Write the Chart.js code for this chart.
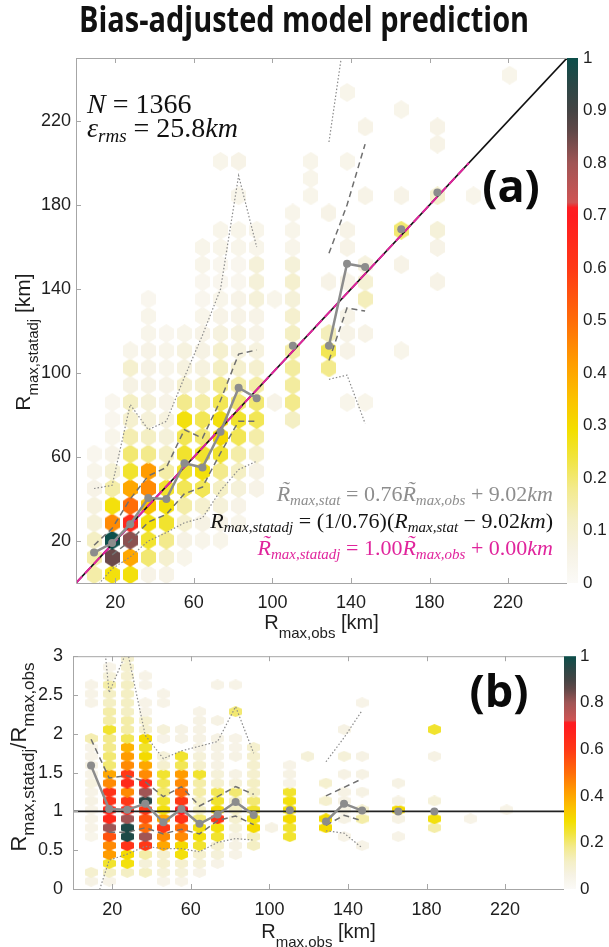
<!DOCTYPE html>
<html>
<head>
<meta charset="utf-8">
<script src="https://cdn.jsdelivr.net/npm/chart.js@4.4.0/dist/chart.umd.min.js"></script>
<style>
  html, body { margin: 0; padding: 0; background: #fff; }
  #wrap { position: relative; width: 609px; height: 947px; overflow: hidden; }
  #top { position: absolute; left: 0; top: 0; }
  #bot { position: absolute; left: 0; top: 630px; }
  #title { position: absolute; left: 0; top: 2px; width: 609px; text-align: center;
           font: 700 35px/34px "Open Sans", sans-serif; color: #111; }
  #ttl { display: inline-block; transform-origin: center; white-space: nowrap; }
</style>
</head>
<body>
<div id="wrap">
  <canvas id="top" width="609" height="650"></canvas>
  <canvas id="bot" width="609" height="317"></canvas>
  <div id="title"><span id="ttl">Bias-adjusted model prediction</span></div>
</div>
<script>
// Ticks des axes
const xTicks = [20, 60, 100, 140, 180, 220];
const yTicksTop = [20, 60, 100, 140, 180, 220];
const yTicksBot = [0, 0.5, 1, 1.5, 2, 2.5, 3];
const cbTicksTop = [0, 0.1, 0.2, 0.3, 0.4, 0.5, 0.6, 0.7, 0.8, 0.9, 1];
const cbTicksBot = [0, 0.2, 0.4, 0.6, 0.8, 1];

// Centres des classes (R_max,obs)
const binX = [9.2, 18.4, 27.6, 36.8, 46, 55.2, 64.4, 73.6, 82.8, 92,
              101.2, 110.4, 119.6, 128.8, 138, 147.2, 156.4, 165.6, 174.8, 184];

// Panneau (a) : médiane, quartiles, 5e/95e percentiles [km]
const medTop = [14.5, 19, 28, 40.5, 40, 57, 55, 72, 93, 88, null, 113, null, 113, 152, 150.5, null, 168.5, null, 186];
const q75Top = [18, 26, 40, 51, 55, 73, 69, 87, 109, 111, null, 127, null, 157, 180, 209, null, null, null, null];
const q25Top = [null, 13.4, 20, 29, 32.7, 42.5, 45.7, 62, 77, 77, null, 95, null, 106, 131, 129.5, null, null, null, null];
const p95Top = [45, 46.5, 85, 73, 77, 98, 118, 140, 194, 160, null, 167, null, 210, 269, 339, null, null, null, null];
const p05Top = [-3, 6.8, 12.4, 20, 24, 28.7, 31, 44, 54, 58, null, 81, null, 97, 99, 76, null, null, null, null];

// Panneau (b) : rapport R_max,statadj / R_max,obs
const medBot = [1.59, 1.03, 1.02, 1.1, 0.86, 1.03, 0.84, 0.96, 1.12, 0.955, null, 1.015, null, 0.87, 1.1, 1.01, null, 1.0, null, 1.0];
const q75Bot = [1.93, 1.43, 1.46, 1.38, 1.19, 1.32, 1.07, 1.19, 1.32, 1.22, null, 1.15, null, 1.2, 1.31, 1.42, null, null, null, null];
const q25Bot = [null, 0.73, 0.73, 0.79, 0.71, 0.77, 0.71, 0.88, 0.94, 0.83, null, 0.86, null, 0.82, 0.95, 0.88, null, null, null, null];
const p95Bot = [4.9, 2.53, 3.08, 1.98, 1.68, 1.78, 1.84, 1.9, 2.35, 1.75, null, 1.51, null, 1.64, 1.95, 2.3, null, null, null, null];
const p05Bot = [-0.35, 0.37, 0.45, 0.55, 0.52, 0.52, 0.48, 0.6, 0.65, 0.63, null, 0.73, null, 0.75, 0.72, 0.53, null, null, null, null];

// Droites de référence
const diagX = [0, 250];
const diagY = [0, 250];
const fitX = [0, 200];
const fitY = [0, 200];
const refX = [0, 250];
const refY = [1, 1];

// Hexbin : colonnes, lignes et densités normalisées
const hexCols = [9.2, 18.4, 27.6, 36.8, 46, 55.2, 64.4, 73.6, 82.8, 92,
                 101.2, 110.4, 119.6, 128.8, 138, 147.2, 165.6, 184, 202.4, 220.8];
const hexRowsTop = [4, 12.2, 20.4, 28.6, 36.8, 45, 53.2, 61.4, 69.6, 77.8, 86, 94.2, 102.4, 110.6, 118.8,
                    127, 135.2, 143.4, 151.6, 159.8, 168, 176.2, 184.4, 192.6, 200.8, 209, 217.2, 225.4, 233.6, 241.8];
const hexValsTop = [
  [.15, .15, .12, .08, .07, .05, .04, .03],
  [.28, .85, 1, .45, .28, .15, .09, .05, .04, .03, .03],
  [.28, .4, .82, .65, .5, .4, .25, .2, .14, .1, .12, .06, .1, .04],
  [.05, .2, .25, .28, .35, .45, .42, .18, .12, .08, .08, .06, .06, .05, .04, .04, .03],
  [.05, .1, .18, .25, .28, .25, .15, .12, .08, .07, .05, .05, .04, .04, .03],
  [0, .04, .06, .1, .15, .22, .25, .25, .22, .28, .18, .1, .07, .07, .04],
  [0, 0, .04, .06, .1, .22, .28, .25, .2, .22, .15, .1, .07, .06, .05, .04, .03, .03, .04, .04],
  [0, 0, .04, .05, .08, .12, .18, .25, .3, .28, .22, .18, .12, .1, .07, .05, .04, .03, .03, .04, .04, 0, 0, 0, .04],
  [0, 0, 0, .04, .05, .08, .12, .15, .22, .25, .2, .15, .1, .07, .07, .05, .05, .03, .03, .04, .04, 0, .04, 0, .05],
  [0, 0, 0, 0, 0, .05, .06, .1, .15, .22, .2, .15, .1, .07, .05, .05, .08, .08, .08, .04, .04],
  [0, 0, 0, 0, 0, 0, 0, 0, 0, 0, .05, 0, 0, 0, 0, 0, .04],
  [0, 0, 0, 0, 0, 0, 0, 0, 0, .12, .18, .16, .16, .15, .12, .1, .08, .1, .08, .04, .04, .04],
  [0, 0, 0, 0, 0, 0, 0, 0, 0, 0, 0, 0, 0, 0, 0, 0, 0, 0, 0, 0, 0, 0, .04, .04, .04],
  [0, 0, 0, 0, 0, 0, 0, 0, 0, 0, 0, 0, .18, .22, .13, 0, 0, .05, 0, 0, 0, .05],
  [0, 0, 0, 0, 0, 0, 0, 0, 0, 0, .04, 0, 0, .05, .05, .05, 0, .05, 0, .05, .05, 0, 0, 0, .04, 0, 0, 0, .04],
  [0, 0, 0, 0, 0, 0, 0, 0, 0, 0, .04, 0, 0, 0, .05, 0, .13, .09, .07, 0, 0, 0, .05, 0, 0, 0, .05],
  [0, 0, 0, 0, 0, 0, 0, 0, 0, 0, 0, 0, 0, .04, 0, 0, 0, 0, .05, 0, .2, 0, .05, 0, 0, 0, 0, .04],
  [0, 0, 0, 0, 0, 0, 0, 0, 0, 0, 0, 0, 0, 0, 0, 0, 0, .05, 0, .05, .08, 0, .1, 0, 0, .05, .05],
  [0, 0, 0, 0, 0, 0, 0, 0, 0, 0, 0, 0, 0, 0, 0, 0, 0, 0, 0, 0, 0, 0, .04],
  [0, 0, 0, 0, 0, 0, 0, 0, 0, 0, 0, 0, 0, 0, 0, 0, 0, 0, 0, 0, 0, 0, 0, 0, 0, 0, 0, 0, 0, .04]
];
const hexRowsBot = [0.1, 0.215, 0.33, 0.445, 0.56, 0.675, 0.79, 0.905, 1.02, 1.135, 1.25, 1.365, 1.48,
                    1.595, 1.71, 1.825, 1.94, 2.055, 2.17, 2.285, 2.4, 2.515, 2.63, 2.745, 2.86, 2.975];
const hexValsBot = [
  [.06, .1, 0, 0, 0, .04, .05, .05, .05, .06, .05, .07, .05, .06, .05, .05, .14, 0, 0, 0, .05, .05, .05],
  [.05, .12, .25, .42, .45, .55, .8, .65, .65, .62, .62, .45, .4, .2, .2, .18, .18, .25, .15, .15, .12, .12, .15, .08, .05],
  [0, .12, .28, .3, .62, .97, .97, .8, .65, .6, .45, .65, .6, .45, .42, .38, .22, .15, .15, .12, .12, .12, .12, .1, .1, .1],
  [0, .12, .08, .15, .6, .8, .5, .55, .6, .95, .8, .65, .45, .4, .3, .25, .3, .1, .1, .05, .05, 0, .05, .05],
  [.05, .08, .1, .1, .4, .45, .6, .4, .28, .25, .2, .22, .25, .1, .08, 0, .05, .08, 0, 0, .05, .05],
  [.05, .08, .1, .28, .3, .45, .5, .62, .7, .6, .5, .45, .42, .22, .25, 0, .06, .06],
  [0, .05, .08, .1, .25, .28, .28, .2, .12, .12, .15, .15, .25, .1, .08, .06, .06, .06, .06, .05],
  [0, 0, .05, .08, .1, .25, .28, .62, .3, .25, .22, .1, .08, .06, .06, .06, .06, 0, .06, 0, 0, 0, .05],
  [0, 0, 0, .05, .06, .06, .08, .1, .12, .1, .2, .08, .06, 0, .06, .05, .05, 0, 0, .2, 0, 0, .05],
  [0, 0, 0, 0, .12, .12, .3, .28, .25, .2, .12, .12, .1, .1, .1, .1],
  [0, 0, 0, 0, 0, 0, .06],
  [0, 0, 0, 0, 0, .25, .25, .3, .28, .28, .25, .05, .06, .05],
  [0, 0, 0, 0, 0, 0, 0, 0, 0, 0, 0, 0, 0, 0, .08],
  [0, 0, 0, 0, 0, 0, .3, .3, 0, .1, 0, .1],
  [0, 0, 0, 0, 0, .05, 0, .06, .06, .06, .06, 0, .06, 0, .08, 0, 0, .06],
  [0, 0, 0, 0, .05, 0, 0, .15, .1, 0, .06, 0, .06, 0, .06, 0, 0, 0, 0, 0, .05],
  [0, 0, 0, 0, 0, .05, 0, .06, .3, .06, 0, .06],
  [0, 0, 0, 0, 0, 0, .15, .28, 0, .08, 0, 0, 0, 0, .06, 0, 0, .25],
  [0, 0, 0, 0, 0, 0, 0, .05],
  [0, 0, 0, 0, 0, 0, 0, 0, .05]
];

// Palette de la barre de couleur
const cmapStops = [
  [0.00, '#fbfaf7'], [0.06, '#f6f2e4'], [0.12, '#f4efc4'], [0.18, '#f3ea8c'],
  [0.24, '#f1e43a'], [0.29, '#f3df00'], [0.35, '#fbc200'], [0.42, '#ff9c00'],
  [0.50, '#ff6c08'], [0.60, '#ff3816'], [0.70, '#ff1b20'], [0.715, '#fc1e22'],
  [0.725, '#cf5454'], [0.80, '#a05555'], [0.86, '#604848'], [0.90, '#444444'],
  [0.95, '#2a4746'], [1.00, '#0c4e4a']
];

const SERIF = '"Liberation Serif", "DejaVu Serif", serif';
const SANS = '"Liberation Sans", Arial, sans-serif';
const GRAY_MED = '#8c8c8c';

function hexToRgb(h) {
  return [parseInt(h.slice(1, 3), 16), parseInt(h.slice(3, 5), 16), parseInt(h.slice(5, 7), 16)];
}

function cmapColor(v) {
  for (let i = 1; i < cmapStops.length; i++) {
    const [p1, c1] = cmapStops[i];
    if (v <= p1) {
      const [p0, c0] = cmapStops[i - 1];
      const t = (v - p0) / (p1 - p0);
      const a = hexToRgb(c0), b = hexToRgb(c1);
      return 'rgb(' + a.map((x, k) => Math.round(x + (b[k] - x) * t)).join(',') + ')';
    }
  }
  return cmapStops[cmapStops.length - 1][1];
}

// Images hexagonales (pointe en haut) mises en cache
const hexCache = {};
function hexImage(v, w, h) {
  const col = cmapColor(v);
  const key = col + '|' + w + 'x' + h;
  if (hexCache[key]) return hexCache[key];
  const c = document.createElement('canvas');
  c.width = w; c.height = h;
  const g = c.getContext('2d');
  g.fillStyle = col;
  g.beginPath();
  g.moveTo(w / 2, 0);
  g.lineTo(w, h * 0.25);
  g.lineTo(w, h * 0.75);
  g.lineTo(w / 2, h);
  g.lineTo(0, h * 0.75);
  g.lineTo(0, h * 0.25);
  g.closePath();
  g.fill();
  hexCache[key] = c;
  return c;
}

function hexPoints(rows, vals) {
  const pts = [];
  hexCols.forEach((x, c) => {
    vals[c].forEach((v, j) => { if (v > 0) pts.push({ x: x, y: rows[j], v: v }); });
  });
  return pts;
}

function xy(xs, ys) {
  return xs.map((x, i) => ({ x: x, y: ys[i] }));
}

// Texte riche : indices, tilde
function tok(t, f, opt) { return Object.assign({ t: t, f: f }, opt || {}); }
const mi = s => 'italic ' + s + 'px ' + SERIF;
const mu = s => s + 'px ' + SERIF;
const sa = s => s + 'px ' + SANS;

function drawRich(ctx, parts, x, y, align, color) {
  let w = 0;
  parts.forEach(p => { ctx.font = p.f; w += ctx.measureText(p.t).width; });
  let cx = align === 'right' ? x - w : align === 'center' ? x - w / 2 : x;
  ctx.fillStyle = color;
  ctx.textAlign = 'left';
  ctx.textBaseline = 'alphabetic';
  parts.forEach(p => {
    ctx.font = p.f;
    const pw = ctx.measureText(p.t).width;
    ctx.fillText(p.t, cx, y + (p.dy || 0));
    if (p.tilde) {
      ctx.textAlign = 'center';
      ctx.fillText('\u02DC', cx + pw * 0.62, y - p.tilde);
      ctx.textAlign = 'left';
    }
    cx += pw;
  });
}

function drawRichRot(ctx, parts, x, y, color) {
  ctx.save();
  ctx.translate(x, y);
  ctx.rotate(-Math.PI / 2);
  drawRich(ctx, parts, 0, 0, 'center', color);
  ctx.restore();
}

// Cadre, graduations, barre de couleur et annotations
function panelPlugin(name, cbWidth, drawTexts) {
  return {
    id: 'panel' + name,
    beforeDatasetsDraw(chart) {
      const ctx = chart.ctx, cb = chart.scales.cb;
      const y0 = cb.getPixelForValue(0), y1 = cb.getPixelForValue(1);
      const g = ctx.createLinearGradient(0, y0, 0, y1);
      cmapStops.forEach(s => g.addColorStop(s[0], s[1]));
      ctx.save();
      ctx.fillStyle = g;
      ctx.fillRect(cb.left, y1, cbWidth, y0 - y1);
      ctx.restore();
    },
    afterDraw(chart) {
      const ctx = chart.ctx, a = chart.chartArea;
      const xs = chart.scales.x, ys = chart.scales.y;
      ctx.save();
      ctx.strokeStyle = '#a6a6a6';
      ctx.lineWidth = 1;
      ctx.beginPath();
      ctx.moveTo(a.left + 0.5, a.top + 0.5);
      ctx.lineTo(a.left + 0.5, a.bottom + 0.5);
      ctx.lineTo(a.right, a.bottom + 0.5);
      ctx.moveTo(a.left, a.top + 0.5);
      ctx.lineTo(a.right, a.top + 0.5);
      xs.ticks.forEach(t => {
        const px = Math.round(xs.getPixelForValue(t.value)) + 0.5;
        ctx.moveTo(px, a.bottom); ctx.lineTo(px, a.bottom - 5);
        ctx.moveTo(px, a.top); ctx.lineTo(px, a.top + 5);
      });
      ys.ticks.forEach(t => {
        const py = Math.round(ys.getPixelForValue(t.value)) + 0.5;
        ctx.moveTo(a.left, py); ctx.lineTo(a.left + 5, py);
      });
      ctx.stroke();
      drawTexts(ctx, chart);
      ctx.restore();
    }
  };
}

function lineSet(xs, ys, color, width, dash, order) {
  return {
    data: xy(xs, ys), showLine: true, borderColor: color, borderWidth: width,
    borderDash: dash, pointRadius: 0, spanGaps: false, order: order, fill: false
  };
}

function hexSet(rows, vals, w, h) {
  return {
    data: hexPoints(rows, vals),
    pointStyle: c => hexImage(c.raw.v, w, h),
    pointRadius: 5, pointHoverRadius: 5, order: 10
  };
}

function tickFont(size) { return { family: SANS, size: size }; }

function makeScales(yTicks, yMax, cbTicks, yWidth, cbW, yPad, xPad, tickSize) {
  const setTicks = arr => s => { s.ticks = arr.map(v => ({ value: v })); };
  return {
    x: {
      type: 'linear', min: 0, max: 250,
      afterBuildTicks: setTicks(xTicks), afterFit: s => { s.height = 40; },
      grid: { display: false, drawTicks: false }, border: { display: false },
      ticks: { font: tickFont(tickSize), color: '#1e1e1e', padding: xPad, maxRotation: 0,
               autoSkip: false, callback: v => String(v) }
    },
    y: {
      type: 'linear', min: 0, max: yMax,
      afterBuildTicks: setTicks(yTicks), afterFit: s => { s.width = yWidth; },
      grid: { display: false, drawTicks: false }, border: { display: false },
      ticks: { font: tickFont(tickSize), color: '#1e1e1e', padding: yPad, autoSkip: false,
               callback: v => String(v) }
    },
    cb: {
      type: 'linear', position: 'right', min: 0, max: 1,
      afterBuildTicks: setTicks(cbTicks), afterFit: s => { s.width = cbW; },
      grid: { display: false, drawTicks: false }, border: { display: false },
      ticks: { font: tickFont(17), color: '#1e1e1e', padding: 16, autoSkip: false,
               callback: v => String(Number(v.toFixed(1))) }
    }
  };
}

const commonOpts = {
  responsive: false, animation: false, devicePixelRatio: 1, events: [],
  plugins: { legend: { display: false }, tooltip: { enabled: false } }
};

// Panneau (a)
function textsTop(ctx, chart) {
  const a = chart.chartArea;
  drawRich(ctx, [tok('N', mi(28)), tok(' = 1366', mu(28))], 87, 113, 'left', '#111');
  drawRich(ctx, [tok('\u03B5', mi(28)), tok('rms', mi(19), { dy: 5 }), tok(' = 25.8', mu(28)),
                 tok('km', mi(28))], 87, 137, 'left', '#111');
  drawRich(ctx, [tok('R', mi(22), { tilde: 5 }), tok('max,stat', mi(15), { dy: 4 }), tok(' = 0.76', mu(22)),
                 tok('R', mi(22), { tilde: 5 }), tok('max,obs', mi(15), { dy: 4 }), tok(' + 9.02', mu(22)),
                 tok('km', mi(22))], 553, 501, 'right', '#8e8e8e');
  drawRich(ctx, [tok('R', mi(22)), tok('max,statadj', mi(15), { dy: 4 }), tok(' = (1/0.76)(', mu(22)),
                 tok('R', mi(22)), tok('max,stat', mi(15), { dy: 4 }), tok(' \u2212 9.02', mu(22)),
                 tok('km', mi(22)), tok(')', mu(22))], 553, 528, 'right', '#141414');
  drawRich(ctx, [tok('R', mi(22), { tilde: 5 }), tok('max,statadj', mi(15), { dy: 4 }), tok(' = 1.00', mu(22)),
                 tok('R', mi(22), { tilde: 5 }), tok('max,obs', mi(15), { dy: 4 }), tok(' + 0.00', mu(22)),
                 tok('km', mi(22))], 553, 555, 'right', '#e0249c');
  ctx.font = '700 45px "Open Sans", sans-serif';
  ctx.fillStyle = '#0a0a0a';
  ctx.textAlign = 'center';
  ctx.fillText('(a)', 511, 202);
  drawRich(ctx, [tok('R', sa(20)), tok('max,obs', sa(15), { dy: 9 }), tok(' [km]', sa(20))],
           (a.left + a.right) / 2, 629, 'center', '#1e1e1e');
  drawRichRot(ctx, [tok('R', sa(21)), tok('max,statadj', sa(15), { dy: 8 }), tok(' [km]', sa(21))],
              30, 342, '#1e1e1e');
}

new Chart(document.getElementById('top'), {
  type: 'scatter',
  data: {
    datasets: [
      hexSet(hexRowsTop, hexValsTop, 15, 19),
      lineSet(binX, p95Top, '#8a8a8a', 1.2, [1.5, 2], 6),
      lineSet(binX, p05Top, '#8a8a8a', 1.2, [1.5, 2], 6),
      lineSet(binX, q75Top, '#707070', 1.5, [6, 4], 5),
      lineSet(binX, q25Top, '#707070', 1.5, [6, 4], 5),
      lineSet(diagX, diagY, '#111111', 1.6, [], 4),
      lineSet(fitX, fitY, '#e0249c', 2, [9, 4], 3),
      {
        data: xy(binX, medTop), showLine: true, borderColor: GRAY_MED, borderWidth: 2.5,
        pointRadius: 4, pointBackgroundColor: GRAY_MED, pointBorderWidth: 0, spanGaps: false, order: 1
      }
    ]
  },
  options: Object.assign({}, commonOpts, {
    layout: { padding: { left: 36, right: 0, top: 58, bottom: 27 } },
    scales: makeScales(yTicksTop, 250, cbTicksTop, 40, 42, 5, 9, 18)
  }),
  plugins: [panelPlugin('Top', 11, textsTop)]
});

// Panneau (b)
function textsBot(ctx, chart) {
  const a = chart.chartArea;
  ctx.font = '700 45px "Open Sans", sans-serif';
  ctx.fillStyle = '#0a0a0a';
  ctx.textAlign = 'center';
  ctx.fillText('(b)', 499, 77);
  drawRich(ctx, [tok('R', sa(20)), tok('max,obs', sa(15), { dy: 9 }), tok(' [km]', sa(20))],
           (a.left + a.right) / 2, 308, 'center', '#1e1e1e');
  drawRichRot(ctx, [tok('R', sa(22)), tok('max,statadj', sa(17), { dy: 8 }), tok('/R', sa(22)),
                    tok('max,obs', sa(17), { dy: 8 })], 26, 127, '#1e1e1e');
}

new Chart(document.getElementById('bot'), {
  type: 'scatter',
  data: {
    datasets: [
      hexSet(hexRowsBot, hexValsBot, 13, 11),
      lineSet(binX, p95Bot, '#8a8a8a', 1.2, [1.5, 2], 6),
      lineSet(binX, p05Bot, '#8a8a8a', 1.2, [1.5, 2], 6),
      lineSet(binX, q75Bot, '#707070', 1.5, [6, 4], 5),
      lineSet(binX, q25Bot, '#707070', 1.5, [6, 4], 5),
      lineSet(refX, refY, '#222222', 1.8, [], 4),
      {
        data: xy(binX, medBot), showLine: true, borderColor: GRAY_MED, borderWidth: 2.5,
        pointRadius: 4, pointBackgroundColor: GRAY_MED, pointBorderWidth: 0, spanGaps: false, order: 1
      }
    ]
  },
  options: Object.assign({}, commonOpts, {
    layout: { padding: { left: 23, right: 0, top: 21, bottom: 18 } },
    scales: makeScales(yTicksBot, 3, cbTicksBot, 50, 45, 10, 10, 18)
  }),
  plugins: [panelPlugin('Bot', 12, textsBot)]
});

// Titre : largeur ajustée à celle de la figure
const ttl = document.getElementById('ttl');
const tw = ttl.getBoundingClientRect().width;
ttl.style.transform = 'scaleX(' + (450 / tw).toFixed(3) + ')';
</script>
</body>
</html>
